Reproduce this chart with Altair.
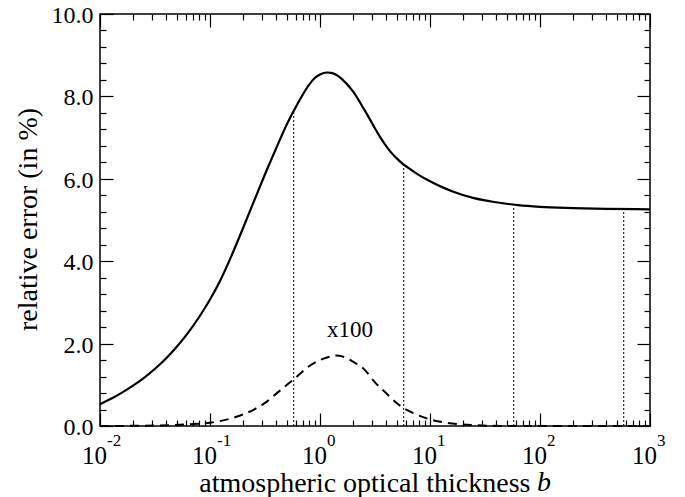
import altair as alt
import pandas as pd

# ---------------- data ----------------
# solid curve: log10(b) and relative error (%)
solid_log_b = [-2.0, -1.9, -1.8, -1.7, -1.6, -1.5, -1.4, -1.3, -1.2, -1.1, -1.0,
               -0.9, -0.8, -0.7, -0.6, -0.5, -0.4, -0.3, -0.2, -0.1, -0.05, 0.0,
               0.06, 0.1, 0.15, 0.2, 0.3, 0.4, 0.45, 0.5, 0.55, 0.6, 0.65, 0.7,
               0.75, 0.8, 0.9, 1.0, 1.1, 1.2, 1.4, 1.6, 1.8, 2.0, 2.3, 2.6, 3.0]
solid_err = [0.53, 0.66, 0.81, 0.98, 1.17, 1.39, 1.64, 1.93, 2.26, 2.64, 3.07,
             3.57, 4.16, 4.80, 5.46, 6.11, 6.73, 7.33, 7.84, 8.28, 8.44, 8.53,
             8.58, 8.57, 8.52, 8.42, 8.12, 7.69, 7.46, 7.22, 7.00, 6.80, 6.63, 6.49,
             6.37, 6.27, 6.09, 5.94, 5.81, 5.70, 5.53, 5.43, 5.36, 5.32, 5.29, 5.27, 5.26]

# dashed curve (error x100)
dashed_log_b = [-2.0, -1.5, -1.2, -1.0, -0.8, -0.6, -0.5, -0.4, -0.3, -0.24, -0.1,
                0.0, 0.1, 0.15, 0.2, 0.3, 0.4, 0.5, 0.6, 0.7, 0.75, 0.85, 1.0,
                1.2, 1.4, 1.7, 2.0, 2.5, 3.0]
dashed_err = [0.0, 0.01, 0.04, 0.08, 0.19, 0.40, 0.56, 0.78, 1.0, 1.13, 1.45,
              1.60, 1.69, 1.71, 1.69, 1.56, 1.38, 1.06, 0.80, 0.55, 0.45, 0.31, 0.16,
              0.06, 0.02, 0.0, 0.0, 0.0, 0.0]

# dotted vertical markers
rule_b = [0.577, 5.77, 57.7, 577.0]
rule_top = [7.64, 6.34, 5.35, 5.27]

# annotation
note_text = ["x100"]
note_b = [1.87]
note_err = [2.17]

# axis ticks / labels
x_major = [0.01, 0.1, 1, 10, 100, 1000]
x_exponents = ["-2", "-1", "0", "1", "2", "3"]
x_minor = [2e-2, 3e-2, 4e-2, 5e-2, 6e-2, 7e-2, 8e-2, 9e-2,
           0.2, 0.3, 0.4, 0.5, 0.6, 0.7, 0.8, 0.9,
           2, 3, 4, 5, 6, 7, 8, 9,
           20, 30, 40, 50, 60, 70, 80, 90,
           200, 300, 400, 500, 600, 700, 800, 900]
y_major = [0, 2, 4, 6, 8, 10]
y_minor = [0.4, 0.8, 1.2, 1.6, 2.4, 2.8, 3.2, 3.6, 4.4, 4.8, 5.2, 5.6,
           6.4, 6.8, 7.2, 7.6, 8.4, 8.8, 9.2, 9.6]

# ---------------- tables ----------------
df_solid = pd.DataFrame({"b": [10 ** v for v in solid_log_b], "err": solid_err})
df_dashed = pd.DataFrame({"b": [10 ** v for v in dashed_log_b], "err": dashed_err})
df_rules = pd.DataFrame({"b": rule_b, "bottom": [0.0] * len(rule_b), "top": rule_top})
df_note = pd.DataFrame({"b": note_b, "err": note_err, "text": note_text})
df_exp = pd.DataFrame({"b": x_major, "exp": x_exponents})

FONT = "Liberation Serif"
W, H = 550, 412

x_scale = alt.Scale(type="log", domain=[0.01, 1000], nice=False)
y_scale = alt.Scale(domain=[0, 10], nice=False, zero=False)


def tick_axis(orient, values, size, offset):
    return alt.Axis(orient=orient, values=values, offset=offset, tickSize=size,
                    labels=False, domain=False, grid=False, title=None,
                    ticks=True, tickColor="black", tickWidth=1.2)


x_label_axis = alt.Axis(
    orient="bottom", values=x_major, labelExpr="'10'", ticks=False, tickSize=0,
    domain=False, grid=False, labelPadding=37, labelBaseline="alphabetic",
    labelFont=FONT, labelFontSize=25, labelColor="black", labelOffset=-6,
    labelFlush=False, labelOverlap=False,
    title="atmospheric optical thickness", titleFont=FONT, titleFontSize=28,
    titleFontWeight="normal", titleColor="black", titleAlign="right",
    titleBaseline="alphabetic", titleX=430, titleY=65)

y_label_axis = alt.Axis(
    orient="left", values=y_major, format=".1f", ticks=False, tickSize=0,
    domain=False, grid=False, labelPadding=7, labelBaseline="middle",
    labelFont=FONT, labelFontSize=24, labelColor="black", labelOffset=1.5,
    labelFlush=False, labelOverlap=False,
    title="relative error (in %)", titleFont=FONT, titleFontSize=28,
    titleFontWeight="normal", titleColor="black", titleAlign="center",
    titleBaseline="alphabetic", titleX=-64, titleY=205)

solid = alt.Chart(df_solid).mark_line(color="black", strokeWidth=2.2,
                                      interpolate="monotone").encode(
    x=alt.X("b:Q", scale=x_scale, axis=x_label_axis),
    y=alt.Y("err:Q", scale=y_scale, axis=y_label_axis),
)

dashed = alt.Chart(df_dashed).mark_line(color="black", strokeWidth=2,
                                        strokeDash=[9, 6],
                                        interpolate="monotone").encode(
    x=alt.X("b:Q", scale=x_scale, axis=tick_axis("top", x_major, 13, -H)),
    y=alt.Y("err:Q", scale=y_scale, axis=tick_axis("right", y_major, 13, -W)),
)

rules = alt.Chart(df_rules).mark_rule(color="black", strokeWidth=1,
                                      strokeDash=[2, 2]).encode(
    x=alt.X("b:Q", scale=x_scale, axis=tick_axis("top", x_minor, 6, -H)),
    y=alt.Y("bottom:Q", scale=y_scale, axis=tick_axis("right", y_minor, 6, -W)),
    y2="top:Q",
)

note = alt.Chart(df_note).mark_text(font=FONT, fontSize=23, color="black",
                                    align="center", baseline="alphabetic").encode(
    x=alt.X("b:Q", scale=x_scale, axis=tick_axis("bottom", x_major, 13, -H)),
    y=alt.Y("err:Q", scale=y_scale, axis=tick_axis("left", y_major, 13, -W)),
    text="text:N",
)

carrier = alt.Chart(df_solid).mark_line(opacity=0).encode(
    x=alt.X("b:Q", scale=x_scale, axis=tick_axis("bottom", x_minor, 6, -H)),
    y=alt.Y("err:Q", scale=y_scale, axis=tick_axis("left", y_minor, 6, -W)),
)

exps = alt.Chart(df_exp).mark_text(font=FONT, fontSize=17, color="black",
                                   align="left", baseline="alphabetic", dx=7).encode(
    x=alt.X("b:Q", scale=x_scale, axis=None),
    y=alt.value(H + 20),
    text="exp:N",
)

b_italic = alt.Chart(df_exp.head(1)).mark_text(
    font=FONT, fontSize=28, fontStyle="italic", color="black",
    align="left", baseline="alphabetic").encode(
    x=alt.value(437), y=alt.value(H + 65), text=alt.value("b"))

chart = alt.layer(solid, dashed, rules, note, carrier, exps, b_italic).resolve_axis(
    x="independent", y="independent"
).properties(
    width=W, height=H,
    autosize=alt.AutoSizeParams(type="none"),
    padding={"left": 92, "top": 6, "right": 27, "bottom": 71},
).configure_view(
    stroke="black", strokeWidth=1.5
).configure_axis(grid=False)

chart.save("out.html", embed_options={"renderer": "svg", "actions": False})
